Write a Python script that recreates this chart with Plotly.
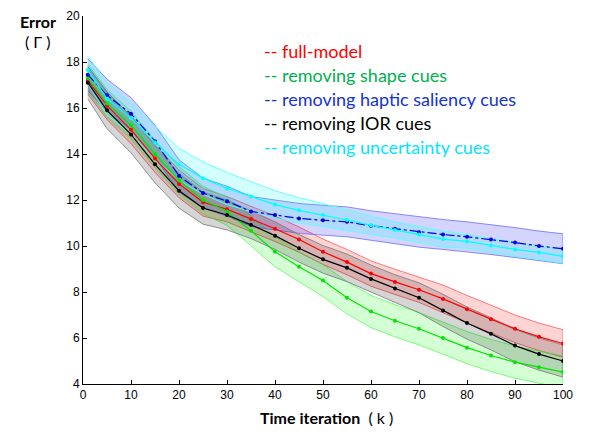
import plotly.graph_objects as go

# ---- data ----
iters = [1, 5, 10, 15, 20, 25, 30, 35, 40, 45, 50, 55, 60, 65, 70, 75, 80, 85, 90, 95, 100]

full_model = [17.2, 16.1, 15.05, 13.8, 12.7, 11.9, 11.6, 11.17, 10.75, 10.28, 9.75, 9.3, 8.8, 8.44, 8.1, 7.7, 7.25, 6.82, 6.4, 6.05, 5.76]
no_shape = [17.3, 16.2, 15.25, 14.0, 12.85, 12.0, 11.5, 10.66, 9.75, 9.1, 8.5, 7.75, 7.15, 6.75, 6.4, 6.0, 5.58, 5.24, 4.95, 4.73, 4.52]
no_haptic = [17.45, 16.55, 15.75, 14.55, 13.05, 12.3, 11.95, 11.5, 11.35, 11.2, 11.12, 11.05, 10.88, 10.75, 10.6, 10.5, 10.4, 10.28, 10.15, 10.0, 9.88]
no_ior = [17.1, 15.9, 14.85, 13.55, 12.4, 11.65, 11.35, 10.92, 10.45, 9.9, 9.42, 9.05, 8.57, 8.15, 7.75, 7.2, 6.65, 6.18, 5.67, 5.3, 5.0]
no_uncert = [17.65, 16.4, 15.55, 14.5, 13.55, 12.95, 12.5, 12.15, 11.8, 11.55, 11.35, 11.13, 10.9, 10.7, 10.5, 10.3, 10.2, 10.02, 9.85, 9.72, 9.55]

# spread (half width of shaded band)
sd_full = [0.6, 0.6, 0.6, 0.6, 0.6, 0.6, 0.55, 0.55, 0.55, 0.55, 0.55, 0.55, 0.55, 0.55, 0.55, 0.6, 0.6, 0.6, 0.6, 0.6, 0.6]
sd_shape = [0.6, 0.6, 0.6, 0.6, 0.6, 0.6, 0.6, 0.65, 0.65, 0.65, 0.7, 0.7, 0.7, 0.7, 0.7, 0.7, 0.7, 0.7, 0.7, 0.7, 0.7]
sd_haptic = [0.7, 0.7, 0.7, 0.7, 0.7, 0.65, 0.65, 0.65, 0.65, 0.65, 0.65, 0.65, 0.65, 0.65, 0.65, 0.65, 0.65, 0.65, 0.65, 0.65, 0.65]
sd_ior = [0.7, 0.8, 0.8, 0.8, 0.75, 0.7, 0.65, 0.6, 0.6, 0.6, 0.6, 0.6, 0.6, 0.6, 0.65, 0.7, 0.7, 0.7, 0.7, 0.7, 0.7]
sd_uncert = [0.6, 0.7, 0.7, 0.7, 0.7, 0.7, 0.7, 0.65, 0.6, 0.55, 0.5, 0.45, 0.4, 0.35, 0.35, 0.35, 0.3, 0.3, 0.3, 0.3, 0.3]

legend_labels = ["-- full-model", "-- removing shape cues", "-- removing haptic saliency cues",
                 "-- removing IOR cues", "-- removing uncertainty cues"]
x_ticks = [0, 10, 20, 30, 40, 50, 60, 70, 80, 90, 100]
y_ticks = [4, 6, 8, 10, 12, 14, 16, 18, 20]

series = [
    (full_model, sd_full, "rgb(255,0,0)", "rgba(255,0,0,0.17)", "rgba(255,90,90,0.8)", "solid"),
    (no_shape, sd_shape, "rgb(0,230,0)", "rgba(0,255,0,0.17)", "rgba(90,255,90,0.8)", "solid"),
    (no_haptic, sd_haptic, "rgb(0,0,230)", "rgba(0,0,255,0.17)", "rgba(110,110,255,0.8)", "dashdot"),
    (no_ior, sd_ior, "rgb(0,0,0)", "rgba(0,0,0,0.16)", "rgba(120,120,120,0.8)", "solid"),
    (no_uncert, sd_uncert, "rgb(0,255,255)", "rgba(0,255,255,0.17)", "rgba(90,255,255,0.9)", "solid"),
]
legend_colors = ["rgb(255,0,0)", "rgb(0,176,80)", "rgb(20,50,210)", "rgb(0,0,0)", "rgb(0,230,255)"]

fig = go.Figure()

for vals, sd, lc, fc, ec, dash in series:
    upper = [v + s for v, s in zip(vals, sd)]
    lower = [v - s for v, s in zip(vals, sd)]
    fig.add_trace(go.Scatter(
        x=iters + iters[::-1], y=upper + lower[::-1],
        fill="toself", fillcolor=fc, mode="lines",
        line=dict(color=ec, width=1), hoverinfo="skip", showlegend=False))

for vals, sd, lc, fc, ec, dash in series:
    fig.add_trace(go.Scatter(
        x=iters, y=vals, mode="lines+markers",
        line=dict(color=lc, width=1.2, dash=dash),
        marker=dict(color=lc, size=4, symbol="circle"),
        showlegend=False))

ann_y = [45, 69, 94, 118, 142]
for lab, col, py in zip(legend_labels, legend_colors, ann_y):
    fig.add_annotation(
        x=(262 - 83) / 480, y=(384 - py) / 375, xref="paper", yref="paper",
        text=lab, showarrow=False, xanchor="left", yanchor="middle",
        font=dict(family="Lato", size=18, color=col))

fig.add_annotation(x=(38 - 83) / 480, y=(384 - 15) / 375, xref="paper", yref="paper",
                   text="<b>Error</b>", showarrow=False, xanchor="center", yanchor="middle",
                   font=dict(family="Lato", size=16, color="black"))
fig.add_annotation(x=(38 - 83) / 480, y=(384 - 35) / 375, xref="paper", yref="paper", text="( Γ )",
                   showarrow=False, xanchor="center", yanchor="middle",
                   font=dict(family="Lato", size=16, color="black"))
fig.add_annotation(x=(326 - 83) / 480, y=(384 - 418) / 375, xref="paper", yref="paper",
                   text="<b>Time iteration</b>  ( k )",
                   showarrow=False, xanchor="center", yanchor="middle",
                   font=dict(family="Lato", size=16, color="black"))

axis_common = dict(showgrid=False, zeroline=False, showline=True, linecolor="black", linewidth=1,
                   ticks="inside", ticklen=4, tickcolor="black", mirror=False,
                   tickfont=dict(family="Liberation Sans", size=12, color="black"))

fig.update_xaxes(range=[0, 100], tickvals=x_ticks, ticktext=[str(t) for t in x_ticks], **axis_common)
fig.update_yaxes(range=[4, 20], tickvals=y_ticks, ticktext=[str(t) for t in y_ticks], **axis_common)

fig.update_layout(
    width=592, height=434,
    margin=dict(l=83, r=29, t=9, b=50),
    paper_bgcolor="white", plot_bgcolor="white",
    showlegend=False,
)

fig.write_html("out.html")
